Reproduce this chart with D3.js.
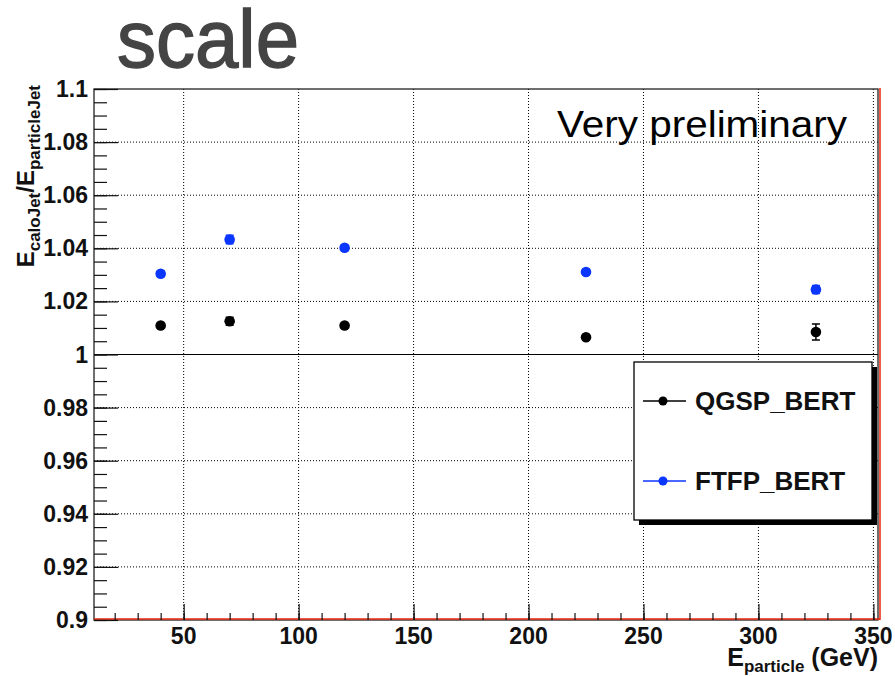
<!DOCTYPE html>
<html lang="en">
<head>
  <meta charset="UTF-8">
  <title>scale – Ecalo/Eparticle vs Eparticle</title>
  <script src="https://d3js.org/d3.v7.min.js"></script>
  <style>
    body {
      margin: 0;
      background: white;
      font-family: "Liberation Sans", Arial, sans-serif;
    }
    svg { display: block; }
  </style>
</head>
<body>
  <svg width="895" height="676"></svg>

<script>
  // data
  const energies = [40, 70, 120, 225, 325];
  const qgsp = [1.0109, 1.0125, 1.0109, 1.0065, 1.0085];
  const qgspErr = [0.0008, 0.0015, 0.0008, 0.0008, 0.003];
  const ftfp = [1.0304, 1.0433, 1.0402, 1.0311, 1.0245];
  const ftfpErr = [0.001, 0.0016, 0.001, 0.001, 0.0015];
  const xTicks = [50, 100, 150, 200, 250, 300, 350];
  const yTicks = [0.9, 0.92, 0.94, 0.96, 0.98, 1, 1.02, 1.04, 1.06, 1.08, 1.1];
  const seriesNames = ["QGSP_BERT", "FTFP_BERT"];
  const seriesColors = ["#000000", "#0b36ff"];

  const svg = d3.select("svg"),
        frame = { left: 94, right: 878, top: 89, bottom: 620 };

  const x = d3.scaleLinear().domain([11, 352]).range([frame.left, frame.right]);
  const y = d3.scaleLinear().domain([0.9, 1.1]).range([frame.bottom, frame.top]);

  // slide title (cut at top)
  svg.append("text")
    .attr("x", 117).attr("y", 67)
    .attr("fill", "#444").attr("stroke", "#444").attr("stroke-width", 1.4)
    .attr("textLength", 182).attr("lengthAdjust", "spacingAndGlyphs")
    .style("font-size", "82px")
    .text("scale");

  const chart = svg.append("g");

  // dotted grid
  chart.append("g").selectAll("line").data(xTicks).join("line")
    .attr("x1", d => x(d)).attr("x2", d => x(d))
    .attr("y1", frame.top).attr("y2", frame.bottom)
    .attr("stroke", "#000").attr("stroke-dasharray", "1,2");
  chart.append("g").selectAll("line").data(yTicks.slice(1, -1)).join("line")
    .attr("x1", frame.left).attr("x2", frame.right)
    .attr("y1", d => y(d)).attr("y2", d => y(d))
    .attr("stroke", "#000").attr("stroke-dasharray", "1,2");

  // reference line at 1
  chart.append("line")
    .attr("x1", frame.left).attr("x2", frame.right)
    .attr("y1", y(1)).attr("y2", y(1))
    .attr("stroke", "#000").attr("stroke-width", 1.2);

  // frame
  chart.append("rect")
    .attr("x", frame.left).attr("y", frame.top)
    .attr("width", frame.right - frame.left).attr("height", frame.bottom - frame.top)
    .attr("fill", "none").attr("stroke", "#222").attr("stroke-width", 1.3);

  // red pad edges
  chart.append("line")
    .attr("x1", frame.left).attr("x2", frame.right + 2)
    .attr("y1", frame.bottom - 1).attr("y2", frame.bottom - 1)
    .attr("stroke", "#e8250c").attr("stroke-width", 1.5);
  chart.append("line")
    .attr("x1", frame.right + 2).attr("x2", frame.right + 2)
    .attr("y1", frame.top - 1).attr("y2", frame.bottom)
    .attr("stroke", "#e8250c").attr("stroke-width", 1.5);

  // y axis: ticks inside, major 0.02 / minor 0.005
  const yAxis = d3.axisRight(y).tickValues(yTicks).tickSize(24).tickFormat("");
  const yMinor = d3.axisRight(y).tickValues(d3.range(0, 41).map(i => 0.9 + i * 0.005)).tickSize(13).tickFormat("");
  chart.append("g").attr("transform", `translate(${frame.left},0)`).call(yMinor).call(g => g.select(".domain").remove());
  chart.append("g").attr("transform", `translate(${frame.left},0)`).call(yAxis).call(g => g.select(".domain").remove());

  // x axis: ticks inside, major 50 / minor 10
  const xAxis = d3.axisTop(x).tickValues(xTicks).tickSize(16).tickFormat("");
  const xMinor = d3.axisTop(x).tickValues(d3.range(20, 351, 10)).tickSize(7).tickFormat("");
  chart.append("g").attr("transform", `translate(0,${frame.bottom})`).call(xMinor).call(g => g.select(".domain").remove());
  chart.append("g").attr("transform", `translate(0,${frame.bottom})`).call(xAxis).call(g => g.select(".domain").remove());
  chart.selectAll(".tick line").attr("stroke", "#111").attr("stroke-width", 1.2);

  // tick labels
  const labelStyle = sel => sel
    .style("font-family", "'Liberation Sans', Arial, sans-serif")
    .style("font-weight", "bold")
    .style("font-size", "23px")
    .attr("fill", "#111");

  chart.append("g").selectAll("text").data(xTicks).join("text")
    .attr("x", d => x(d)).attr("y", 644)
    .attr("text-anchor", "middle")
    .call(labelStyle)
    .text(d => d);

  chart.append("g").selectAll("text").data(yTicks).join("text")
    .attr("x", 88).attr("y", d => y(d) + 8)
    .attr("text-anchor", "end")
    .call(labelStyle)
    .text(d => d3.format("")(+d.toFixed(2)));

  // axis titles
  const xTitle = svg.append("text")
    .attr("x", 878).attr("y", 666)
    .attr("text-anchor", "end")
    .style("font-weight", "bold").style("font-size", "25px").attr("fill", "#111");
  xTitle.append("tspan").text("E");
  xTitle.append("tspan").attr("dy", 6).style("font-size", "17px").text("particle");
  xTitle.append("tspan").attr("dy", -6).text(" (GeV)");

  const yTitle = svg.append("text")
    .attr("transform", "translate(34,85) rotate(-90)")
    .attr("text-anchor", "end")
    .style("font-weight", "bold").style("font-size", "24px").attr("fill", "#111");
  yTitle.append("tspan").text("E");
  yTitle.append("tspan").attr("dy", 6).style("font-size", "17px").text("caloJet");
  yTitle.append("tspan").attr("dy", -6).text("/E");
  yTitle.append("tspan").attr("dy", 6).style("font-size", "17px").text("particleJet");

  // annotation
  svg.append("text")
    .attr("x", 557).attr("y", 137)
    .attr("textLength", 290).attr("lengthAdjust", "spacingAndGlyphs")
    .style("font-size", "36px").attr("fill", "#000")
    .text("Very preliminary");

  // data points with error bars
  const series = [
    { name: seriesNames[0], color: seriesColors[0], values: qgsp, errors: qgspErr },
    { name: seriesNames[1], color: seriesColors[1], values: ftfp, errors: ftfpErr }
  ];

  series.forEach(s => {
    const pts = energies.map((e, i) => ({ e, v: s.values[i], err: s.errors[i] }));
    const g = chart.append("g");
    g.selectAll("line.err").data(pts).join("line")
      .attr("class", "err")
      .attr("x1", d => x(d.e)).attr("x2", d => x(d.e))
      .attr("y1", d => y(d.v - d.err)).attr("y2", d => y(d.v + d.err))
      .attr("stroke", s.color).attr("stroke-width", 1.5);
    g.selectAll("path.cap").data(pts).join("path")
      .attr("class", "cap")
      .attr("d", d => `M${x(d.e) - 4},${y(d.v + d.err)}h8M${x(d.e) - 4},${y(d.v - d.err)}h8`)
      .attr("stroke", s.color).attr("stroke-width", 1.5);
    g.selectAll("circle").data(pts).join("circle")
      .attr("cx", d => x(d.e)).attr("cy", d => y(d.v))
      .attr("r", 5.3)
      .attr("fill", s.color);
  });

  // legend with shadow
  const legend = svg.append("g").attr("transform", "translate(634,362)");
  legend.append("rect").attr("x", 5).attr("y", 5).attr("width", 238).attr("height", 158).attr("fill", "#000");
  legend.append("rect").attr("width", 238).attr("height", 158)
    .attr("fill", "white").attr("stroke", "#000").attr("stroke-width", 1.3);

  series.forEach((s, i) => {
    const row = legend.append("g").attr("transform", `translate(0,${39 + i * 80})`);
    row.append("line").attr("x1", 9).attr("x2", 52).attr("stroke", s.color).attr("stroke-width", 1.3);
    row.append("circle").attr("cx", 29).attr("r", 4.5).attr("fill", s.color);
    row.append("text")
      .attr("x", 61).attr("y", 9)
      .style("font-weight", "bold").style("font-size", "26px").attr("fill", "#111")
      .text(s.name);
  });
</script>

</body>
</html>
